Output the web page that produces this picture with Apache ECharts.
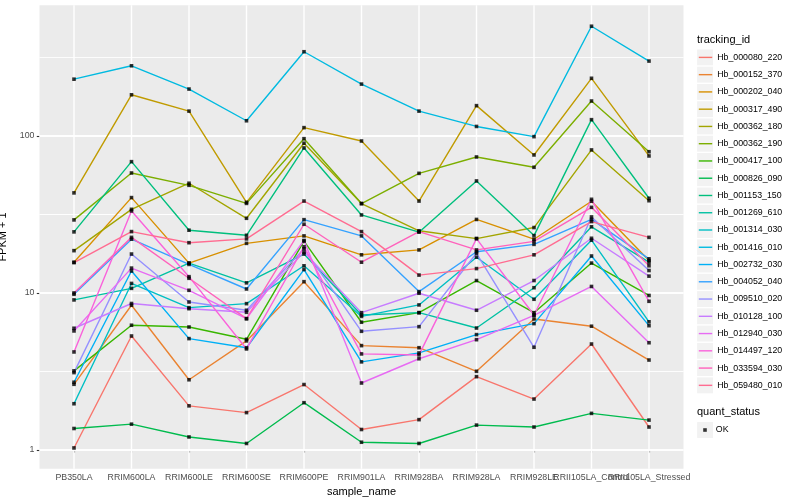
<!DOCTYPE html>
<html>
<head>
<meta charset="utf-8">
<script src="https://cdn.jsdelivr.net/npm/echarts@6/dist/echarts.min.js"></script>
<style>html,body{margin:0;padding:0;background:#fff}#c{width:800px;height:500px}</style>
</head>
<body>
<div id="c"></div>
<script>
// ---------- data ----------
const samples = ["PB350LA","RRIM600LA","RRIM600LE","RRIM600SE","RRIM600PE","RRIM901LA","RRIM928BA","RRIM928LA","RRIM928LE","RRII105LA_Control","RRII105LA_Stressed"];
const trackingIds = ["Hb_000080_220","Hb_000152_370","Hb_000202_040","Hb_000317_490","Hb_000362_180","Hb_000362_190","Hb_000417_100","Hb_000826_090","Hb_001153_150","Hb_001269_610","Hb_001314_030","Hb_001416_010","Hb_002732_030","Hb_004052_040","Hb_009510_020","Hb_010128_100","Hb_012940_030","Hb_014497_120","Hb_033594_030","Hb_059480_010"];
const quantStatus = ["OK"];

// FPKM + 1 per sample (order of `samples`)
const Hb_000080_220 = [1.03, 5.32, 1.91, 1.73, 2.61, 1.35, 1.56, 2.93, 2.11, 4.73, 1.40];
const Hb_000152_370 = [2.62, 8.35, 2.80, 4.95, 11.8, 4.62, 4.48, 3.17, 6.83, 6.14, 3.74];
const Hb_000202_040 = [15.7, 40.5, 15.5, 20.7, 23.1, 17.5, 18.8, 29.4, 22.0, 38.4, 16.1];
const Hb_000317_490 = [43.4, 183, 144, 37.8, 113, 92.9, 38.5, 156, 75.7, 233, 74.6];
const Hb_000362_180 = [18.6, 34.1, 50.0, 29.9, 89.9, 37.1, 24.9, 22.2, 26.1, 81.5, 38.7];
const Hb_000362_190 = [29.2, 58.1, 48.5, 37.2, 96.1, 37.1, 57.8, 73.5, 63.2, 167, 79.4];
const Hb_000417_100 = [3.19, 6.23, 6.07, 5.07, 21.4, 6.51, 7.49, 12.0, 7.49, 15.5, 9.64];
const Hb_000826_090 = [1.37, 1.46, 1.21, 1.10, 2.00, 1.12, 1.10, 1.44, 1.40, 1.71, 1.55];
const Hb_001153_150 = [24.5, 68.6, 25.1, 23.3, 83.9, 31.4, 24.4, 51.7, 23.2, 127, 40.1];
const Hb_001269_610 = [9.03, 10.7, 15.5, 11.6, 17.7, 7.24, 7.49, 5.98, 10.8, 26.4, 15.7];
const Hb_001314_030 = [1.97, 11.5, 8.06, 8.55, 14.9, 7.09, 8.39, 16.9, 9.12, 21.7, 6.55];
const Hb_001416_010 = [230, 280, 199, 125, 344, 214, 144, 115, 99, 500, 300];
const Hb_002732_030 = [2.70, 13.8, 5.12, 4.48, 14.1, 3.64, 4.15, 5.43, 6.38, 17.2, 6.19];
const Hb_004052_040 = [9.81, 22.0, 15.2, 10.6, 29.3, 23.1, 10.2, 18.3, 20.4, 29.4, 16.5];
const Hb_009510_020 = [3.11, 17.7, 8.76, 7.76, 19.1, 5.70, 6.10, 17.9, 4.51, 30.5, 13.9];
const Hb_010128_100 = [5.96, 8.57, 7.94, 7.53, 18.2, 7.49, 9.96, 7.76, 12.0, 22.3, 12.8];
const Hb_012940_030 = [5.73, 14.4, 10.4, 6.86, 21.6, 2.67, 3.81, 5.04, 7.21, 11.0, 4.82];
const Hb_014497_120 = [4.21, 33.3, 12.7, 4.40, 19.7, 4.09, 4.03, 22.2, 7.24, 39.5, 8.85];
const Hb_033594_030 = [10.0, 22.6, 12.4, 6.86, 27.4, 15.7, 24.6, 18.8, 21.3, 35.1, 14.9];
const Hb_059480_010 = [15.6, 24.6, 20.9, 22.1, 38.5, 24.6, 13.0, 14.3, 17.5, 28.5, 22.6];

const yTickValues = [1, 10, 100];
const yTickLabels = ["1", "10", "100"];
const yMinorValues = [3.1623, 31.623, 316.23];

// ---------- styles ----------
const lineColors = ["#F8766D","#EA8331","#D89000","#C09B00","#A3A500","#7CAE00","#39B600","#00BB4E","#00BF7D","#00C1A3","#00BFC4","#00BAE0","#00B0F6","#35A2FF","#9590FF","#C77CFF","#E76BF3","#FA62DB","#FF62BC","#FF6C91"];
const FONT = "'Liberation Sans', Arial, Helvetica, sans-serif";
const MAJOR_W = 1.4, MINOR_W = 0.7;

const seriesValues = [Hb_000080_220,Hb_000152_370,Hb_000202_040,Hb_000317_490,Hb_000362_180,Hb_000362_190,Hb_000417_100,Hb_000826_090,Hb_001153_150,Hb_001269_610,Hb_001314_030,Hb_001416_010,Hb_002732_030,Hb_004052_040,Hb_009510_020,Hb_010128_100,Hb_012940_030,Hb_014497_120,Hb_033594_030,Hb_059480_010];

const lg = Math.log10;
const xIdx = samples.map((s, i) => i + 1);
const xMin = 0.4, xMax = 11.6;
const yMinLog = -0.12, yMaxLog = 2.833;

const series = [];
// panel grid lines: thin filled bands placed through the axes' scales (kind 0 = horizontal, 1 = vertical)
const gridItems = [];
yMinorValues.forEach(v => gridItems.push([0, lg(v), MINOR_W]));
yTickValues.forEach(v => gridItems.push([0, lg(v), MAJOR_W]));
xIdx.forEach(v => gridItems.push([1, v, MAJOR_W]));
series.push({
  type: 'custom', silent: true, z: 1, clip: false,
  dimensions: ['kind', 'pos', 'w'], encode: {x: -1, y: -1},
  data: gridItems,
  renderItem: function (params, api) {
    const kind = api.value(0), pos = api.value(1), w = api.value(2);
    if (kind === 0) {
      const a = api.coord([xMin, pos]), b = api.coord([xMax, pos]);
      return {type: 'rect', shape: {x: a[0], y: a[1] - w / 2, width: b[0] - a[0], height: w}, style: {fill: '#FFFFFF'}};
    }
    const a = api.coord([pos, yMaxLog]), b = api.coord([pos, yMinLog]);
    return {type: 'rect', shape: {x: a[0] - w / 2, y: a[1], width: w, height: b[1] - a[1]}, style: {fill: '#FFFFFF'}};
  }
});

trackingIds.forEach((id, i) => {
  series.push({
    type: 'line', name: id, z: 2, silent: true, symbol: 'none', showSymbol: false,
    data: seriesValues[i].map((v, j) => [xIdx[j], lg(v)]),
    lineStyle: {width: 1.4, color: lineColors[i]},
    itemStyle: {color: lineColors[i]},
    emphasis: {disabled: true}
  });
});
const pts = [];
seriesValues.forEach(arr => arr.forEach((v, j) => pts.push([xIdx[j], lg(v)])));
series.push({
  type: 'scatter', name: quantStatus[0], z: 3, silent: true, symbol: 'rect', symbolSize: 3.6,
  data: pts, itemStyle: {color: '#000000'}, emphasis: {disabled: true}
});

// legend key backgrounds and titles
const keyPitch = 17.26, key0 = 57.4;
const graphics = [];
trackingIds.forEach((id, i) => {
  graphics.push({type: 'rect', z: 0, silent: true, shape: {x: 697.1, y: key0 + i * keyPitch - 7.95, width: 15.9, height: 15.9}, style: {fill: '#F2F2F2'}});
});
graphics.push({type: 'rect', z: 0, silent: true, shape: {x: 697.1, y: 430 - 7.95, width: 15.9, height: 15.9}, style: {fill: '#F2F2F2'}});
graphics.push({type: 'text', z: 5, silent: true, x: 697, y: 39.5, style: {text: 'tracking_id', fontSize: 11, fontFamily: FONT, fill: '#000000', verticalAlign: 'middle', align: 'left'}});
graphics.push({type: 'text', z: 5, silent: true, x: 697, y: 411.5, style: {text: 'quant_status', fontSize: 11, fontFamily: FONT, fill: '#000000', verticalAlign: 'middle', align: 'left'}});

// an invisible spacer label at the axis end keeps the min/max-label overlap rule away from the real last labels
const xLabelValues = xIdx.concat([xMax]);

const chart = echarts.init(document.getElementById('c'), null, {renderer: 'canvas'});
chart.setOption({
  animation: false,
  backgroundColor: '#FFFFFF',
  textStyle: {fontFamily: FONT},
  grid: {left: 39.5, right: 116.5, top: 5.2, bottom: 31.2, show: true, backgroundColor: '#EBEBEB', borderWidth: 0, containLabel: false, outerBoundsMode: 'none'},
  xAxis: {
    type: 'value', min: xMin, max: xMax,
    name: 'sample_name', nameLocation: 'middle', nameGap: 13,
    nameTextStyle: {color: '#000000', fontSize: 11, fontFamily: FONT},
    axisLine: {show: false},
    axisTick: {show: true, customValues: xIdx, length: 2.7, lineStyle: {color: '#333333', width: 1.1}},
    axisLabel: {customValues: xLabelValues, hideOverlap: false,
      formatter: v => { const k = Math.round(v); return Math.abs(k - v) < 1e-6 ? samples[k - 1] : ' '; },
      color: '#4D4D4D', fontSize: 8.8, margin: 4, fontFamily: FONT},
    splitLine: {show: false}
  },
  yAxis: {
    type: 'value', min: yMinLog, max: yMaxLog,
    name: 'FPKM + 1', nameLocation: 'middle', nameGap: 21,
    nameTextStyle: {color: '#000000', fontSize: 11, fontFamily: FONT},
    axisLine: {show: false},
    axisTick: {show: true, customValues: yTickValues.map(lg), length: 2.7, lineStyle: {color: '#333333', width: 1.1}},
    axisLabel: {customValues: yTickValues.map(lg), showMinLabel: true, showMaxLabel: true, formatter: v => yTickLabels[yTickValues.findIndex(t => Math.abs(lg(t) - v) < 1e-6)], color: '#4D4D4D', fontSize: 8.8, margin: 5, fontFamily: FONT},
    splitLine: {show: false}
  },
  legend: [{
    data: trackingIds, orient: 'vertical', left: 698.8, top: key0 - keyPitch / 2, padding: 0, itemGap: 0,
    itemWidth: 13.4, itemHeight: 1.4, icon: 'rect', selectedMode: false,
    textStyle: {fontSize: 8.8, color: '#000000', lineHeight: keyPitch, fontFamily: FONT}
  }, {
    data: quantStatus, orient: 'vertical', left: 703.2, top: 430 - keyPitch / 2, padding: 0, itemGap: 0,
    itemWidth: 3.6, itemHeight: 3.6, selectedMode: false,
    textStyle: {fontSize: 8.8, color: '#000000', lineHeight: keyPitch, fontFamily: FONT, padding: [0, 0, 0, 4]}
  }],
  graphic: graphics,
  series: series
});

// horizontal panel grid lines, positioned with the chart's own y scale
try {
  const hLines = [];
  const addH = (v, w) => {
    const a = chart.convertToPixel({gridIndex: 0}, [xMin, lg(v)]);
    const b = chart.convertToPixel({gridIndex: 0}, [xMax, lg(v)]);
    if (a && b && isFinite(a[1]) && isFinite(b[1])) {
      hLines.push({type: 'line', z: 1, silent: true, shape: {x1: a[0], y1: a[1], x2: b[0], y2: b[1]}, style: {stroke: '#FFFFFF', lineWidth: w}});
    }
  };
  yMinorValues.forEach(v => addH(v, MINOR_W));
  yTickValues.forEach(v => addH(v, MAJOR_W));
  if (hLines.length) chart.setOption({graphic: graphics.concat(hLines)});
} catch (e) { /* keep the chart as drawn */ }
</script>
</body>
</html>
